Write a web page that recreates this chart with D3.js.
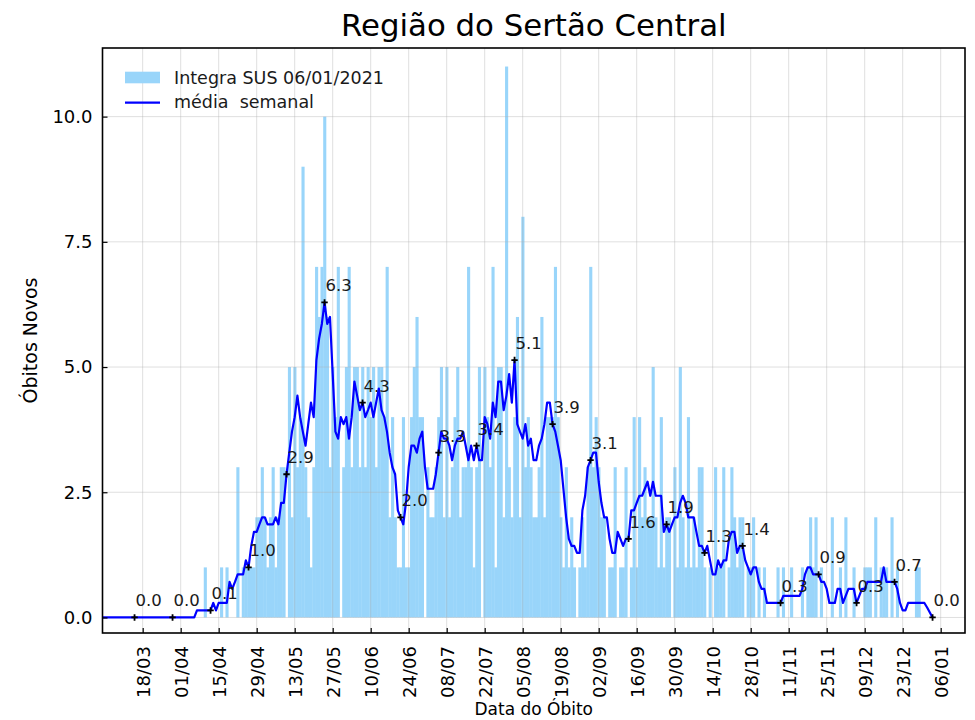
<!DOCTYPE html>
<html><head><meta charset="utf-8">
<script src="https://cdn.jsdelivr.net/npm/d3@7"></script>
<style>
body{margin:0;background:#fff}
svg{font-family:"DejaVu Sans",sans-serif;display:block}
</style>
</head><body><svg id="chart" width="975" height="720"></svg>
<script>
// ---------- data ----------
const title = "Região do Sertão Central";
const xLabel = "Data do Óbito";
const yLabel = "Óbitos Novos";
const barLabel = "Integra SUS 06/01/2021";
const lineLabel = "média  semanal";

// daily deaths, one value per day from barStart
const barStart = "2020-04-07";
const barValues = [
0,0,0,1,0,0,0,0,0,1,
0,1,0,0,0,3,0,1,1,1,
1,1,2,2,3,2,1,2,3,1,
2,3,3,0,5,2,5,3,4,9,
3,2,1,3,7,6,7,10,6,3,
5,4,7,0,3,5,7,3,5,5,
3,5,3,5,4,5,3,5,5,4,
7,2,4,2,1,1,4,1,1,4,
5,6,4,4,0,3,2,2,3,4,
5,2,5,2,3,4,5,2,3,3,
7,3,1,3,5,0,5,4,3,7,
1,5,5,2,11,3,2,4,6,2,
8,3,4,3,2,2,3,6,2,4,
4,4,7,4,2,1,3,1,2,1,
0,1,2,1,3,7,3,4,3,2,
2,0,1,1,3,0,1,1,3,0,
1,4,1,4,2,3,2,2,5,2,
1,4,1,2,2,0,3,1,5,2,
1,4,1,2,1,3,3,1,0,1,
0,3,1,1,3,0,1,3,2,1,
2,2,0,1,1,2,0,1,0,1,
0,0,0,0,1,0,1,0,0,1,
0,0,0,1,0,1,2,1,2,0,
1,0,0,0,2,0,0,1,0,2,
0,0,1,0,0,0,1,1,1,0,
2,0,1,1,1,0,2,0,1,0,
0,0,0,0,0,1,1,0,0,0,
0,0
];

// weekly mean, one value per day from lineStart
const lineStart = "2020-03-03";
const lineValues = [
0,0,0,0,0,0,0,0,0,0,
0,0,0,0,0,0,0,0,0,0,
0,0,0,0,0,0,0,0,0,0,
0,0,0,0,0,
0.14,0.14,0.14,0.14,0.14,0.14,0.29,0.14,0.29,0.29,
0.29,0.29,0.71,0.57,0.71,0.86,0.86,0.86,1.14,1.0,
1.43,1.71,1.71,1.86,2.0,2.0,1.86,1.86,1.86,2.0,
1.86,2.29,2.29,2.86,3.29,3.71,4.0,4.43,4.0,3.71,
3.43,3.86,4.29,4.0,5.14,5.57,5.86,6.29,5.86,6.0,
4.86,3.71,3.57,4.0,3.86,4.0,3.57,4.0,4.71,4.43,
4.14,4.29,4.0,4.14,4.29,4.0,4.29,4.57,4.14,4.0,
3.71,3.29,3.0,2.86,2.14,2.0,1.86,2.29,3.0,3.43,
3.43,3.29,3.57,3.71,3.0,2.57,2.57,2.57,2.86,3.29,
3.71,3.57,3.57,3.43,3.14,3.43,3.57,3.57,3.71,3.43,
3.14,3.43,3.14,3.43,3.14,3.14,4.0,3.86,3.57,4.29,
4.0,4.71,4.71,4.14,4.43,4.86,4.29,5.14,3.86,3.71,
3.57,3.86,3.43,3.57,3.14,3.14,3.43,3.57,3.86,4.29,
4.29,3.86,3.71,3.43,3.14,2.57,2.0,1.57,1.43,1.43,
1.29,1.29,2.14,2.43,3.0,3.14,3.29,3.29,2.71,2.29,
2.0,2.0,1.57,1.29,1.29,1.71,1.57,1.43,1.57,1.57,
2.14,2.14,2.29,2.43,2.43,2.57,2.71,2.43,2.71,2.43,
2.43,2.43,1.71,1.86,1.71,1.86,2.0,2.0,2.29,2.43,
2.29,2.0,2.0,2.0,1.71,1.43,1.43,1.29,1.43,1.14,
0.86,0.86,1.14,1.0,1.14,1.14,1.57,1.71,1.71,1.29,
1.43,1.43,1.14,1.0,0.86,1.0,1.0,0.71,0.57,0.57,
0.29,0.29,0.29,0.29,0.29,0.29,0.43,0.43,0.43,0.43,
0.43,0.43,0.43,0.57,0.86,1.0,1.0,0.86,0.86,0.86,
0.71,0.71,0.57,0.29,0.29,0.29,0.57,0.57,0.29,0.43,
0.57,0.57,0.57,0.29,0.43,0.57,0.57,0.71,0.71,0.71,
0.71,0.71,0.71,1.0,0.71,0.71,0.71,0.71,0.57,0.29,
0.14,0.14,0.29,0.29,0.29,0.29,0.29,0.29,0.29,0.2,
0.1,0.0
];

// annotated points (every 14 days)
const markerDates = ["2020-03-15","2020-03-29","2020-04-12","2020-04-26","2020-05-10","2020-05-24",
"2020-06-07","2020-06-21","2020-07-05","2020-07-19","2020-08-02","2020-08-16","2020-08-30",
"2020-09-13","2020-09-27","2020-10-11","2020-10-25","2020-11-08","2020-11-22","2020-12-06",
"2020-12-20","2021-01-03"];

const xTickDates = ["2020-03-18","2020-04-01","2020-04-15","2020-04-29","2020-05-13","2020-05-27",
"2020-06-10","2020-06-24","2020-07-08","2020-07-22","2020-08-05","2020-08-19","2020-09-02",
"2020-09-16","2020-09-30","2020-10-14","2020-10-28","2020-11-11","2020-11-25","2020-12-09",
"2020-12-23","2021-01-06"];
const yTicks = [0, 2.5, 5, 7.5, 10];

const xDomain = ["2020-03-03T04:40:00Z", "2021-01-14T22:50:00Z"];
const yDomain = [-0.31, 11.37];

// ---------- drawing ----------
const W = 975, H = 720;
const M = {left: 102.5, right: 965, top: 48, bottom: 633};
const parse = s => new Date(s.length === 10 ? s + "T00:00:00Z" : s);

const x = d3.scaleUtc().domain(xDomain.map(parse)).range([M.left, M.right]);
const y = d3.scaleLinear().domain(yDomain).range([M.bottom, M.top]);

const bars = barValues.map((v, i) => ({date: d3.utcDay.offset(parse(barStart), i), v}));
const line = lineValues.map((v, i) => ({date: d3.utcDay.offset(parse(lineStart), i), v}));
const lineByTime = new Map(line.map(d => [+d.date, d.v]));
const markers = markerDates.map(s => {const dt = parse(s); return {date: dt, v: lineByTime.get(+dt)};});

const svg = d3.select("#chart");
const barColor = "rgb(153,213,250)";

svg.append("defs").append("clipPath").attr("id", "clip")
  .append("rect").attr("x", M.left).attr("y", M.top)
  .attr("width", M.right - M.left).attr("height", M.bottom - M.top);

const plot = svg.append("g").attr("clip-path", "url(#clip)");

// bars (centered on the day, one day wide)
plot.append("g").selectAll("rect").data(bars.filter(d => d.v > 0)).join("rect")
  .attr("x", d => x(d3.utcHour.offset(d.date, -12)))
  .attr("width", d => x(d3.utcHour.offset(d.date, 12)) - x(d3.utcHour.offset(d.date, -12)) + 0.4)
  .attr("y", d => y(d.v))
  .attr("height", d => y(0) - y(d.v))
  .attr("fill", barColor);

// grid
const grid = svg.append("g").attr("stroke", "#b0b0b0").attr("stroke-opacity", 0.4).attr("stroke-width", 1);
grid.selectAll(".gx").data(xTickDates.map(parse)).join("line")
  .attr("x1", d => x(d)).attr("x2", d => x(d)).attr("y1", M.top).attr("y2", M.bottom);
grid.selectAll(".gy").data(yTicks).join("line")
  .attr("y1", d => y(d)).attr("y2", d => y(d)).attr("x1", M.left).attr("x2", M.right);

// weekly mean line
const lineGen = d3.line().x(d => x(d.date)).y(d => y(d.v));
svg.append("g").attr("clip-path", "url(#clip)").append("path")
  .datum(line).attr("d", lineGen)
  .attr("fill", "none").attr("stroke", "#0000ff").attr("stroke-width", 2.2)
  .attr("stroke-linejoin", "round");

// markers + labels
const mg = svg.append("g");
mg.selectAll("path").data(markers).join("path")
  .attr("transform", d => `translate(${x(d.date)},${y(d.v)})`)
  .attr("d", "M-3.2,0H3.2M0,-3.2V3.2")
  .attr("stroke", "#000").attr("stroke-width", 1.8);
mg.selectAll("text").data(markers).join("text")
  .attr("x", d => x(d.date) + 1)
  .attr("y", d => y(d.v) - 11)
  .attr("font-size", 16.5).attr("fill", "#1a1a1a")
  .text(d => d.v.toFixed(1));

// axes (ticks inward)
const xAxis = d3.axisBottom(x).tickValues(xTickDates.map(parse))
  .tickFormat(d3.utcFormat("%d/%m")).tickSizeInner(-5).tickSizeOuter(0).tickPadding(0);
const gx = svg.append("g").attr("transform", `translate(0,${M.bottom})`).call(xAxis);
gx.select(".domain").remove();
gx.selectAll(".tick line").attr("stroke", "#000").attr("stroke-width", 1.2);
gx.selectAll(".tick text")
  .attr("font-size", 18).attr("font-family", "DejaVu Sans").attr("fill", "#000")
  .attr("text-anchor", "end")
  .attr("dy", null)
  .attr("transform", "translate(0,13) rotate(-90)")
  .attr("x", 0).attr("y", 0)
  .attr("dominant-baseline", "central");

const yAxis = d3.axisLeft(y).tickValues(yTicks).tickFormat(d3.format(".1f"))
  .tickSizeInner(-5).tickSizeOuter(0).tickPadding(10);
const gy = svg.append("g").attr("transform", `translate(${M.left},0)`).call(yAxis);
gy.select(".domain").remove();
gy.selectAll(".tick line").attr("stroke", "#000").attr("stroke-width", 1.2);
gy.selectAll(".tick text").attr("font-size", 18).attr("font-family", "DejaVu Sans").attr("fill", "#000");

// frame
svg.append("rect").attr("x", M.left).attr("y", M.top)
  .attr("width", M.right - M.left).attr("height", M.bottom - M.top)
  .attr("fill", "none").attr("stroke", "#000").attr("stroke-width", 1.6);

// titles
svg.append("text").attr("x", (M.left + M.right) / 2).attr("y", 36)
  .attr("text-anchor", "middle").attr("font-size", 30.8).attr("fill", "#000").text(title);
svg.append("text").attr("x", (M.left + M.right) / 2).attr("y", 715)
  .attr("text-anchor", "middle").attr("font-size", 17).attr("fill", "#000").text(xLabel);
svg.append("text").attr("transform", `translate(37,${(M.top + M.bottom) / 2}) rotate(-90)`)
  .attr("text-anchor", "middle").attr("font-size", 19).attr("fill", "#000").text(yLabel);

// legend
const lg = svg.append("g");
lg.append("rect").attr("x", 125).attr("y", 71.7).attr("width", 35).attr("height", 11.6).attr("fill", barColor);
lg.append("text").attr("x", 174).attr("y", 84.3).attr("font-size", 17.5).attr("fill", "#1a1a1a").text(barLabel);
lg.append("line").attr("x1", 125).attr("x2", 160).attr("y1", 102.7).attr("y2", 102.7)
  .attr("stroke", "#0000ff").attr("stroke-width", 2.2);
lg.append("text").attr("x", 174).attr("y", 108.4).attr("font-size", 17.5).attr("fill", "#1a1a1a")
  .style("white-space", "pre").attr("xml:space", "preserve").text(lineLabel);
</script>
</body></html>
